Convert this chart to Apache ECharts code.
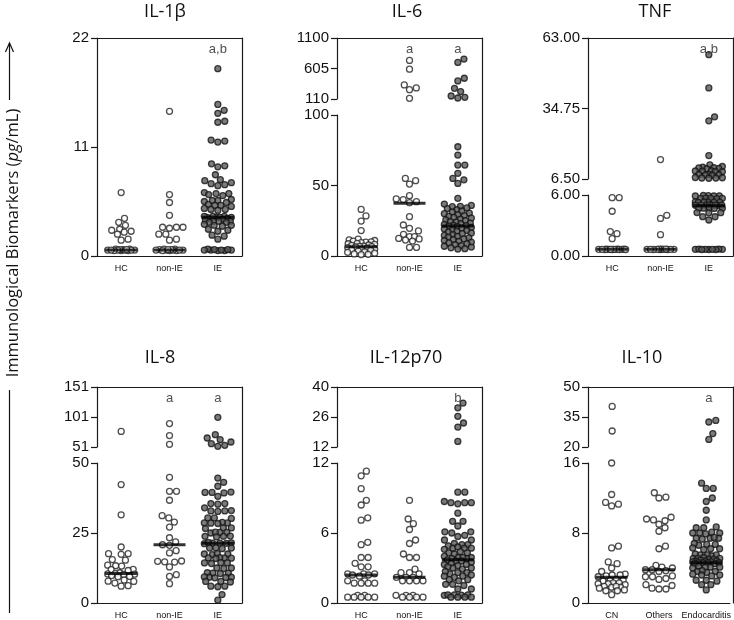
<!DOCTYPE html>
<html><head><meta charset="utf-8">
<script src="https://cdn.jsdelivr.net/npm/echarts@6/dist/echarts.min.js"></script>
<style>html,body{margin:0;padding:0;background:#fff}#c{width:734px;height:620px}</style>
</head><body><div id="c"></div>
<script>
// ---------------- DATA ----------------
const CATS_A = ['HC', 'non-IE', 'IE'];
const CATS_B = ['CN', 'Others', 'Endocarditis'];
const TITLES = ['IL-1\u03b2', 'IL-6', 'TNF', 'IL-8', 'IL-12p70', 'IL-10'];

// IL-1β
const IL1B_TICKS = [0, 11, 22];
const IL1B_HC = [6.4, 3.8, 3.4, 3.1, 2.7, 2.6, 2.5, 2.4, 2.2, 1.7, 1.6, 0.55, 0.6, 0.65, 0.6, 0.7, 0.55, 0.6, 0.65, 0.6, 0.7, 0.55, 0.6, 0.65, 0.6];
const IL1B_NONIE = [14.6, 6.2, 5.4, 4.1, 2.9, 2.9, 2.9, 2.8, 2.2, 2.2, 1.7, 1.6, 0.55, 0.6, 0.65, 0.6, 0.7, 0.55, 0.6, 0.65, 0.6, 0.7, 0.55, 0.6, 0.65];
const IL1B_IE = [18.9, 15.3, 14.7, 14.4, 13.6, 13.5, 11.7, 11.6, 11.5, 9.3, 9.1, 9.0, 8.2, 7.7, 7.6, 7.4, 7.3, 7.2, 7.1, 6.4, 6.3, 6.2, 6.3, 6.1, 5.7, 5.6, 5.5, 5.6, 5.4, 5.1, 5.0, 5.2, 5.1, 4.8, 4.7, 4.6, 4.7, 4.0, 3.9, 3.9, 3.8, 4.0, 3.9, 3.8, 3.9, 4.0, 3.7, 3.5, 3.5, 3.4, 3.6, 3.5, 3.4, 3.1, 3.0, 3.2, 3.1, 2.6, 2.5, 2.7, 2.1, 2.0, 1.7, 0.55, 0.6, 0.65, 0.6, 0.7, 0.55, 0.6, 0.65, 0.6];
const IL1B_MED = [0.6, 0.6, 3.9];
const IL1B_SIG = ['', '', 'a,b'];

// IL-6
const IL6_LOW_TICKS = [0, 50, 100];
const IL6_UP_TICKS = [110, 605, 1100];
const IL6_HC = [33, 28.4, 24.8, 18, 12, 11.5, 11, 10.5, 10, 9.8, 9.5, 9, 8.7, 8.2, 7.8, 7.5, 7, 6.8, 6.6, 6.4, 6, 5.5, 5, 4.7, 4.3, 4, 3.5, 3, 2.6, 2, 1.5, 1.2, 1];
const IL6_NONIE = [736, 594, 338, 290, 262, 121, 55, 53.4, 51, 42.8, 40.5, 40, 38.5, 37.8, 27.9, 22, 19.6, 17.8, 15.4, 13.7, 12.5, 13.7, 11.3, 10.6, 12.1, 6.1, 6.1];
const IL6_IE = [758, 703, 447, 403, 284, 230, 159, 137, 126, 77.5, 71.6, 64.5, 64.5, 58.6, 55, 54, 51.5, 40.9, 36.8, 35.9, 35.2, 35.0, 34.1, 33.6, 32.8, 31.9, 31.2, 30.4, 30.0, 29.3, 28.7, 28.1, 27.4, 26.9, 26.2, 25.6, 25.1, 24.4, 24.0, 23.3, 22.9, 22.4, 21.8, 21.5, 21.2, 20.9, 20.3, 19.8, 19.2, 18.7, 18.1, 17.6, 16.9, 16.3, 15.8, 15.2, 14.6, 13.9, 13.4, 12.8, 12.1, 11.7, 11.0, 10.4, 9.8, 9.3, 8.6, 8.0, 7.4, 6.9, 6.3, 5.8, 5.2, 4.9];
const IL6_MED = [6.6, 37.4, 21.3];
const IL6_SIG = ['', 'a', 'a'];

// TNF
const TNF_LOW_TICKS = [0, 6];
const TNF_UP_TICKS = [6.5, 34.75, 63];
const TNF_HC = [5.74, 5.74, 4.4, 2.4, 2.2, 1.7, 0.64, 0.66, 0.68, 0.66, 0.64, 0.66, 0.68, 0.66, 0.64, 0.66, 0.68, 0.66, 0.64, 0.66];
const TNF_NONIE = [14.3, 4.0, 3.7, 2.1, 0.64, 0.66, 0.68, 0.66, 0.64, 0.66, 0.68, 0.66, 0.64, 0.66, 0.68, 0.66];
const TNF_IE = [56.3, 43.0, 31.4, 29.8, 15.9, 12.2, 11.5, 11.2, 10.9, 10.7, 11.0, 10.6, 9.8, 9.6, 9.4, 9.7, 9.5, 8.4, 8.2, 8.1, 8.3, 8.0, 7.0, 6.9, 6.8, 7.1, 6.9, 5.93, 5.95, 5.9, 5.92, 5.9, 5.67, 5.65, 5.7, 5.67, 5.66, 5.3, 5.32, 5.28, 5.3, 5.31, 5.29, 5.0, 5.02, 4.98, 5.0, 5.01, 4.99, 5.0, 5.0, 4.7, 4.72, 4.68, 4.7, 4.7, 4.26, 4.25, 4.27, 3.87, 3.86, 3.54, 0.64, 0.66, 0.68, 0.66, 0.64, 0.66, 0.68, 0.66, 0.64];
const TNF_MED = [0.66, 0.66, 4.95];
const TNF_SIG = ['', '', 'a,b'];

// IL-8
const IL8_LOW_TICKS = [0, 25, 50];
const IL8_UP_TICKS = [51, 101, 151];
const IL8_HC = [77, 42.3, 31.5, 20, 17.6, 17.6, 17.4, 15.5, 15.3, 13.5, 13.3, 13.2, 12, 11.9, 11.6, 10.8, 10.5, 10.4, 10.3, 10.2, 9.8, 9.5, 9.4, 8.2, 7.8, 7.7, 7.1, 6.2, 6.0];
const IL8_NONIE = [90, 70, 55.4, 44.9, 39.9, 39.9, 36.7, 31.2, 30.4, 28.9, 27.1, 23.3, 21.8, 20.8, 20.6, 18.7, 17.9, 15.0, 14.9, 14.7, 14.6, 12.9, 10.1, 9.5, 6.9];
const IL8_IE = [100.5, 71.6, 66, 63.2, 59.3, 56.6, 53.8, 52.2, 44.6, 43.1, 41.7, 39.5, 39.5, 39.3, 39.6, 38.1, 35.5, 35.5, 35.3, 34.0, 32.9, 32.9, 33.0, 32.7, 30.4, 30.4, 30.2, 28.6, 28.6, 28.5, 28.8, 28.4, 26.8, 26.8, 26.6, 25.2, 25.2, 25.0, 25.3, 23.8, 23.8, 23.6, 23.9, 21.4, 21.4, 21.3, 21.5, 21.2, 21.6, 19.6, 19.6, 19.4, 19.7, 17.5, 17.5, 17.3, 17.6, 16.1, 16.1, 16.0, 16.2, 15.9, 14.3, 14.3, 14.1, 14.4, 12.5, 12.5, 12.3, 10.7, 10.7, 10.5, 10.8, 9.2, 9.2, 9.0, 9.3, 9.1, 7.7, 7.7, 7.5, 6.0, 6.0, 5.8, 3.0, 1.0];
const IL8_MED = [10.5, 20.8, 21.3];
const IL8_SIG = ['', 'a', 'a'];

// IL-12p70
const IL12_LOW_TICKS = [0, 6, 12];
const IL12_UP_TICKS = [12, 26, 40];
const IL12_HC = [11.3, 10.9, 9.8, 8.8, 8.4, 7.3, 7.1, 5.2, 5.0, 3.9, 3.9, 3.4, 3.1, 3.1, 2.5, 2.5, 2.5, 2.4, 2.4, 2.3, 1.9, 1.9, 1.7, 1.7, 1.7, 1.7, 0.66, 0.66, 0.5, 0.5, 0.5, 0.5, 0.5];
const IL12_NONIE = [8.8, 7.2, 6.8, 6.3, 5.4, 5.1, 4.2, 3.9, 3.9, 2.9, 2.6, 2.6, 2.5, 2.2, 2.2, 2.2, 1.9, 1.9, 1.9, 1.9, 0.66, 0.66, 0.66, 0.5, 0.5, 0.5, 0.5];
const IL12_IE = [32.5, 30.3, 26.3, 23.2, 21.3, 14.6, 9.5, 9.5, 8.6, 8.6, 8.6, 8.5, 8.7, 7.7, 7.0, 7.0, 6.6, 6.1, 6.1, 6.0, 5.8, 5.7, 5.4, 5.4, 5.0, 5.0, 4.9, 5.1, 4.7, 4.7, 4.6, 4.8, 4.7, 4.3, 4.3, 4.2, 4.4, 3.9, 3.9, 3.8, 4.0, 3.9, 3.8, 3.6, 3.6, 3.5, 3.7, 3.3, 3.3, 3.2, 3.4, 3.0, 3.0, 2.9, 3.1, 2.6, 2.6, 2.5, 2.7, 2.3, 2.3, 2.2, 2.4, 2.0, 2.0, 1.9, 1.6, 1.6, 1.5, 1.2, 1.2, 0.7, 0.7, 0.66, 0.7, 0.68, 0.5, 0.5, 0.5, 0.5];
const IL12_MED = [2.4, 2.2, 3.7];
const IL12_SIG = ['', '', 'b'];

// IL-10
const IL10_LOW_TICKS = [0, 8, 16];
const IL10_UP_TICKS = [20, 35, 50];
const IL10_CN = [40.3, 28, 16.0, 12.4, 11.5, 11.3, 11.1, 6.5, 6.3, 4.7, 4.5, 4.0, 3.6, 3.3, 3.2, 3.2, 3.1, 3.0, 2.6, 2.6, 2.5, 2.7, 2.3, 2.2, 2.2, 2.1, 2.3, 1.9, 1.8, 1.8, 1.7, 1.9, 1.4, 1.4, 1.5, 0.95];
const IL10_OTHERS = [12.6, 12.1, 12.0, 9.8, 9.6, 9.5, 9.4, 9.0, 8.6, 8.2, 6.5, 6.2, 4.3, 4.1, 4.0, 3.8, 3.8, 3.7, 3.6, 3.0, 3.0, 3.1, 2.7, 2.8, 2.0, 2.1, 1.6, 1.6, 1.7];
const IL10_ENDO = [33.3, 32.5, 26.7, 23.8, 13.7, 13.1, 13.1, 12.0, 11.6, 10.6, 9.5, 8.6, 8.6, 8.7, 8.0, 8.0, 8.1, 7.9, 8.0, 7.4, 7.4, 7.5, 7.3, 7.4, 6.7, 6.7, 6.6, 6.8, 6.2, 6.2, 6.1, 6.3, 5.5, 5.5, 5.6, 5.4, 5.5, 5.1, 5.1, 5.0, 5.2, 5.1, 5.0, 4.8, 4.8, 4.7, 4.9, 4.8, 4.7, 4.6, 4.6, 4.5, 4.6, 4.6, 4.5, 4.1, 4.1, 4.0, 4.2, 4.1, 3.6, 3.6, 3.5, 3.7, 3.2, 3.2, 3.1, 3.3, 2.6, 2.6, 2.5, 2.1, 2.1, 1.5];
const IL10_MED = [2.95, 3.8, 4.6];
const IL10_SIG = ['', '', 'a'];

// ---------------- LAYOUT / STYLE ----------------
const FONT = '"Liberation Sans", Arial, sans-serif';
const TFONT = '"Open Sans", "Noto Sans", sans-serif';
const LINE = {color: '#1a1a1a', width: 1.2};
const PW = 145;
const panels = [
  {title: TITLES[0], cats: CATS_A, groups: [IL1B_HC, IL1B_NONIE, IL1B_IE], med: IL1B_MED, sig: IL1B_SIG, low: IL1B_TICKS, up: null, left: 97, top: 38, bTop: 0, bBot: 0, bottom: 256, tx: 165, ty: 12, dec: 0},
  {title: TITLES[1], cats: CATS_A, groups: [IL6_HC, IL6_NONIE, IL6_IE], med: IL6_MED, sig: IL6_SIG, low: IL6_LOW_TICKS, up: IL6_UP_TICKS, left: 337, top: 38, bTop: 99, bBot: 115, bottom: 256, tx: 407, ty: 12, dec: 0},
  {title: TITLES[2], cats: CATS_A, groups: [TNF_HC, TNF_NONIE, TNF_IE], med: TNF_MED, sig: TNF_SIG, low: TNF_LOW_TICKS, up: TNF_UP_TICKS, left: 588, top: 38, bTop: 179, bBot: 195, bottom: 256, tx: 655, ty: 12, dec: 2},
  {title: TITLES[3], cats: CATS_A, groups: [IL8_HC, IL8_NONIE, IL8_IE], med: IL8_MED, sig: IL8_SIG, low: IL8_LOW_TICKS, up: IL8_UP_TICKS, left: 97, top: 387, bTop: 447, bBot: 463, bottom: 603, tx: 160, ty: 358, dec: 0},
  {title: TITLES[4], cats: CATS_A, groups: [IL12_HC, IL12_NONIE, IL12_IE], med: IL12_MED, sig: IL12_SIG, low: IL12_LOW_TICKS, up: IL12_UP_TICKS, left: 337, top: 387, bTop: 447, bBot: 463, bottom: 603, tx: 406, ty: 358, dec: 0},
  {title: TITLES[5], cats: CATS_B, groups: [IL10_CN, IL10_OTHERS, IL10_ENDO], med: IL10_MED, sig: IL10_SIG, low: IL10_LOW_TICKS, up: IL10_UP_TICKS, left: 588, top: 387, bTop: 447, bBot: 463, bottom: 603, tx: 642, ty: 358, dec: 0}
];

const chart = echarts.init(document.getElementById('c'), null, {renderer: 'canvas', width: 734, height: 620});

function yAxisDef(gi, ticks, dec) {
  return {
    gridIndex: gi, type: 'value', position: 'left',
    min: ticks[0], max: ticks[ticks.length - 1],
    axisLine: {show: true, onZero: false, lineStyle: LINE},
    axisTick: {show: true, length: 6, customValues: ticks, lineStyle: LINE},
    axisLabel: {customValues: ticks, margin: 8, fontSize: 15, fontFamily: FONT, color: '#111',
      formatter: v => dec ? Number(v).toFixed(dec) : String(v)},
    splitLine: {show: false}
  };
}

const grids = [], xAxes = [], yAxes = [], graphics = [];
const segs = [];
panels.forEach((p) => {
  // frame (top + right border)
  const fg = grids.length;
  grids.push({left: p.left, top: p.top, width: PW, height: p.bottom - p.top});
  xAxes.push({gridIndex: fg, type: 'value', min: 0, max: 1, position: 'top',
    axisLine: {show: true, onZero: false, lineStyle: LINE}, axisTick: {show: false}, axisLabel: {show: false}, splitLine: {show: false}});
  yAxes.push({gridIndex: fg, type: 'value', min: 0, max: 1, position: 'right',
    axisLine: {show: true, onZero: false, lineStyle: LINE}, axisTick: {show: false}, axisLabel: {show: false}, splitLine: {show: false}});
  // lower segment
  const lowTop = p.up ? p.bBot : p.top;
  const lg = grids.length;
  grids.push({left: p.left, top: lowTop, width: PW, height: p.bottom - lowTop});
  const lx = xAxes.length;
  xAxes.push({gridIndex: lg, type: 'value', min: -0.5, max: 2.5, position: 'bottom',
    axisLine: {show: true, onZero: false, lineStyle: LINE}, axisTick: {show: false},
    axisLabel: {customValues: [0, 1, 2], margin: 8, fontSize: 9, fontFamily: FONT, color: '#111',
      formatter: v => p.cats[Math.round(v)]},
    splitLine: {show: false}});
  const ly = yAxes.length;
  yAxes.push(yAxisDef(lg, p.low, p.dec));
  let ux = null, uy = null;
  if (p.up) {
    const ug = grids.length;
    grids.push({left: p.left, top: p.top, width: PW, height: p.bTop - p.top});
    ux = xAxes.length;
    xAxes.push({gridIndex: ug, type: 'value', min: -0.5, max: 2.5, show: false, splitLine: {show: false}});
    uy = yAxes.length;
    yAxes.push(yAxisDef(ug, p.up, p.dec));
  }
  segs.push({lx, ly, ux, uy});
  graphics.push({type: 'text', x: p.tx, y: p.ty, silent: true,
    style: {text: p.title, fontSize: 18, fontFamily: TFONT, fill: '#111', align: 'center', verticalAlign: 'middle'}});
});

// axis label (left) with arrow
graphics.push({type: 'text', x: 13, y: 243, rotation: Math.PI / 2, silent: true,
  style: {text: '{n|Immunological Biomarkers (}{i|pg}{n|/mL)}', align: 'center', verticalAlign: 'middle',
    rich: {n: {fontSize: 16.5, fontFamily: TFONT, fill: '#111'}, i: {fontSize: 16.5, fontStyle: 'italic', fontFamily: TFONT, fill: '#111'}}}});
graphics.push({type: 'line', silent: true, shape: {x1: 9.5, y1: 43, x2: 9.5, y2: 100}, style: {stroke: '#111', lineWidth: 1.2}});
graphics.push({type: 'polyline', silent: true, shape: {points: [[5.5, 52], [9.5, 43], [13.5, 52]]}, style: {stroke: '#111', lineWidth: 1.2, fill: null}});
graphics.push({type: 'line', silent: true, shape: {x1: 9.5, y1: 390, x2: 9.5, y2: 613}, style: {stroke: '#111', lineWidth: 1.2}});

chart.setOption({
  animation: false,
  backgroundColor: '#fff',
  grid: grids, xAxis: xAxes, yAxis: yAxes, graphic: graphics, series: []
});

// beeswarm offsets computed in pixel space
function swarm(ys, d, wmax) {
  const order = ys.map((y, i) => i).sort((a, b) => ys[b] - ys[a]);
  const xs = new Array(ys.length);
  const placed = [];
  for (const i of order) {
    const y = ys[i];
    const cands = [0];
    for (const q of placed) {
      const dy = Math.abs(q.y - y);
      if (dy < d) { const dx = Math.sqrt(d * d - dy * dy); cands.push(q.x + dx, q.x - dx); }
    }
    cands.sort((a, b) => Math.abs(a) - Math.abs(b));
    let best = null;
    for (const c of cands) {
      if (Math.abs(c) > wmax + 1e-6) continue;
      let ok = true;
      for (const q of placed) { const dx = q.x - c, dy = q.y - y; if (dx * dx + dy * dy < d * d - 1e-3) { ok = false; break; } }
      if (ok) { best = c; break; }
    }
    if (best === null) {
      let bd = -1;
      for (let c = 0; c <= wmax; c += 0.5) {
        for (const s of [1, -1]) {
          const cc = s * c; let m = Infinity;
          for (const q of placed) { const dx = q.x - cc, dy = q.y - y; m = Math.min(m, dx * dx + dy * dy); }
          if (m > bd + 1e-6) { bd = m; best = cc; }
        }
      }
    }
    xs[i] = best; placed.push({x: best, y: y});
  }
  return xs;
}

const OPEN = {color: '#ffffff', borderColor: '#222222', borderWidth: 1.3};
const FILLED = {color: '#5a5a5a', borderColor: '#141414', borderWidth: 1.3};
const series = [];
panels.forEach((p, pi) => {
  const s = segs[pi];
  const lowMax = p.low[p.low.length - 1];
  const pxPerX = chart.convertToPixel({xAxisIndex: s.lx}, 1) - chart.convertToPixel({xAxisIndex: s.lx}, 0);
  p.groups.forEach((vals, g) => {
    const isUp = vals.map(v => !!p.up && v > lowMax);
    const ys = vals.map((v, i) => chart.convertToPixel({yAxisIndex: isUp[i] ? s.uy : s.ly}, v));
    const offs = swarm(ys, 7, 13.5);
    const lowData = [], upData = [];
    vals.forEach((v, i) => { (isUp[i] ? upData : lowData).push([g + offs[i] / pxPerX, v]); });
    const style = g < 2 ? OPEN : FILLED;
    series.push({type: 'scatter', xAxisIndex: s.lx, yAxisIndex: s.ly, data: lowData, symbol: 'circle', symbolSize: 6, itemStyle: style, silent: true, z: 2});
    if (p.up && upData.length) {
      series.push({type: 'scatter', xAxisIndex: s.ux, yAxisIndex: s.uy, data: upData, symbol: 'circle', symbolSize: 6, itemStyle: style, silent: true, z: 2});
    }
  });
  // medians
  series.push({type: 'scatter', xAxisIndex: s.lx, yAxisIndex: s.ly, silent: true, z: 5,
    data: p.med.map((m, g) => [g, m]), symbol: 'rect', symbolSize: [32, 3], itemStyle: {color: '#000'}});
  // significance letters
  const ax = p.up ? s.ux : s.lx, ay = p.up ? s.uy : s.ly;
  const topV = p.up ? p.up[p.up.length - 1] : p.low[p.low.length - 1];
  series.push({type: 'scatter', xAxisIndex: ax, yAxisIndex: ay, silent: true, z: 6,
    data: p.sig.map((t, g) => ({value: [g, topV], name: t})).filter(d => d.name),
    symbolSize: 1, itemStyle: {color: 'rgba(0,0,0,0)'},
    label: {show: true, position: 'bottom', distance: 4, formatter: d => d.name, fontSize: 13, fontFamily: FONT, color: '#222'}});
});
chart.setOption({series: series});
</script></body></html>
